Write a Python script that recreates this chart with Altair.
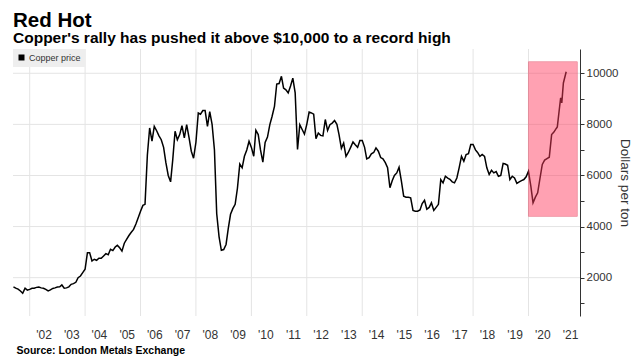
import altair as alt
import pandas as pd

# ---------------- data ----------------
start_month = "2001-06-01"
p2001 = [1640, 1590, 1550, 1480, 1390, 1585, 1510]
p2002 = [1540, 1585, 1590, 1620, 1637, 1600, 1585, 1540, 1480, 1520, 1580, 1600]
p2003 = [1637, 1640, 1715, 1585, 1600, 1640, 1740, 1766, 1820, 2000, 2066, 2200]
p2004 = [2330, 2980, 2980, 2650, 2720, 2680, 2760, 2760, 2850, 2940, 2900, 3110]
p2005 = [3060, 3200, 3265, 3170, 3040, 3350, 3500, 3650, 3780, 3890, 4100, 4345]
p2006 = [4600, 4830, 4870, 6800, 7860, 7340, 7925, 7750, 7550, 7400, 7100, 6500]
p2007 = [6000, 5750, 6600, 7730, 7400, 7600, 7950, 7470, 7990, 7500, 6950, 6676]
p2008 = [7300, 8445, 8400, 8540, 8540, 7925, 8500, 8000, 7000, 4500, 3600, 3070]
p2009 = [3100, 3300, 3900, 4480, 4700, 4870, 5500, 6450, 6300, 6750, 7000, 7340]
p2010 = [7100, 6750, 7770, 7600, 7000, 6520, 7290, 7500, 7990, 8320, 8700, 9580]
p2011 = [9600, 9880, 9420, 9350, 9230, 9500, 9810, 9230, 7015, 7990, 7800, 7620]
p2012 = [8000, 8480, 8450, 8400, 7440, 7660, 7570, 7550, 8190, 7760, 7990, 8050]
p2013 = [8150, 8000, 7600, 7060, 7270, 6750, 6900, 7100, 7310, 7200, 7100, 7370]
p2014 = [7370, 7100, 6650, 6700, 6850, 6900, 7080, 6950, 6700, 6650, 6500, 6300]
p2015 = [5520, 5800, 6000, 6100, 6320, 5780, 5190, 5150, 5150, 5125, 4630, 4600]
p2016 = [4600, 4650, 4900, 5030, 4680, 4750, 4930, 4630, 4750, 4870, 5840, 5710]
p2017 = [5970, 5900, 5850, 5750, 5710, 5900, 6300, 6750, 6560, 6820, 6850, 7210]
p2018 = [7210, 7000, 6900, 6750, 6820, 6750, 6300, 6040, 6200, 6100, 6150, 5970]
p2019 = [6000, 6470, 6450, 6400, 5840, 5970, 5900, 5690, 5750, 5800, 5840, 5950]
p2020 = [6170, 5580, 4930, 5150, 5320, 5900, 6430, 6600, 6660, 6715, 7600, 7700]
p2021_dates = ["2021-01-01", "2021-01-15", "2021-02-15", "2021-02-28",
               "2021-03-15", "2021-04-05", "2021-05-12"]
p2021 = [7840, 7900, 8710, 9040, 8840, 9620, 10060]

highlight_x = ["2020-01-01", "2021-10-05"]
highlight_y = [4400, 10450]

series_name = "Copper price"
label_years = list(range(2002, 2022))
grid_years = list(range(2002, 2021, 2))
y_ticks = list(range(1000, 11000, 1000))
y_grid = list(range(2000, 11000, 2000))

# ---------------- tables ----------------
monthly = (p2001 + p2002 + p2003 + p2004 + p2005 + p2006 + p2007 + p2008 + p2009
           + p2010 + p2011 + p2012 + p2013 + p2014 + p2015 + p2016 + p2017
           + p2018 + p2019 + p2020)
dates = [d.strftime("%Y-%m-%d") for d in pd.date_range(start_month, periods=len(monthly), freq="MS")]
df = pd.DataFrame({
    "date": dates + p2021_dates,
    "price": monthly + p2021,
    "series": series_name,
})
box = pd.DataFrame({"x": [highlight_x[0]], "x2": [highlight_x[1]],
                    "y": [highlight_y[0]], "y2": [highlight_y[1]]})
xgrid_df = pd.DataFrame({"gx": [f"{y}-01-01" for y in grid_years]})
ygrid_df = pd.DataFrame({"gy": y_grid})

FONT = "Liberation Sans"
GRID = "#e4e4e4"

x_scale = alt.Scale(domain=[alt.DateTime(year=2001, month=5, date=26),
                            alt.DateTime(year=2021, month=11, date=10)])
y_scale = alt.Scale(domain=[500, 10950], nice=False, zero=False)

x_axis = alt.Axis(
    values=[alt.DateTime(year=y, month=1, date=1) for y in label_years],
    labelExpr="'\\'' + timeFormat(datum.value, '%y')",
    labelOffset=13.85, labelFlush=False, labelOverlap=False,
    domain=False, ticks=False, grid=False, labelPadding=13,
    labelFontSize=12, labelColor="#333333", labelFont=FONT,
    title="Source: London Metals Exchange",
    titleAnchor="start", titleAlign="left", titleBaseline="alphabetic",
    titleX=3, titleY=37, titleFontSize=10.5, titleFontWeight="bold",
    titleColor="#000000", titleFont=FONT,
)

y_axis = alt.Axis(
    orient="right", values=y_ticks,
    labelExpr="datum.value % 2000 === 0 ? '' + datum.value : ''",
    labelOverlap=False, grid=False,
    domain=True, domainColor="#333333", tickColor="#333333", tickSize=4,
    labelFontSize=11.5, labelColor="#333333", labelFont=FONT, labelPadding=2,
    title="Dollars per ton", titleFontSize=13.5, titleFontWeight="normal",
    titleColor="#333333", titleFont=FONT, titlePadding=0,
)

xgrid = alt.Chart(xgrid_df).mark_rule(color=GRID, strokeWidth=1).encode(
    x=alt.X("gx:T", scale=x_scale, axis=x_axis),
)
ygrid = alt.Chart(ygrid_df).mark_rule(color=GRID, strokeWidth=1).encode(
    y=alt.Y("gy:Q", scale=y_scale, axis=y_axis),
)

line = alt.Chart(df).mark_line(strokeWidth=1.5).encode(
    x=alt.X("date:T", scale=x_scale, axis=x_axis),
    y=alt.Y("price:Q", scale=y_scale, axis=y_axis),
    color=alt.Color("series:N",
                    scale=alt.Scale(domain=[series_name], range=["#000000"]),
                    legend=alt.Legend(title=None, orient="top-left", offset=0,
                                      symbolType="square", symbolFillColor="#000000",
                                      symbolStrokeWidth=0, symbolSize=36,
                                      labelFontSize=9, labelColor="#333333",
                                      labelFont=FONT, fillColor="#eeeeee",
                                      padding=4, symbolOffset=0, labelOffset=3)),
)

rect = alt.Chart(box).mark_rect(fill="#ff3d5f", opacity=0.48, stroke="#e0304f",
                                strokeWidth=1).encode(
    x=alt.X("x:T", scale=x_scale, axis=x_axis), x2="x2:T",
    y=alt.Y("y:Q", scale=y_scale, axis=y_axis), y2="y2:Q",
)

chart = alt.layer(xgrid, ygrid, line, rect).properties(
    width=567, height=267,
    padding={"left": 2, "top": 2, "right": 0, "bottom": 0},
    title=alt.Title(
        "Red Hot",
        subtitle="Copper's rally has pushed it above $10,000 to a record high",
        anchor="start", frame="group", font=FONT, fontSize=20.5, fontWeight="bold",
        color="#000000", subtitleFont=FONT, subtitleFontSize=15.5,
        subtitleFontWeight="bold", subtitleColor="#000000",
        subtitlePadding=0, offset=2,
    ),
).configure_view(stroke=None)

chart.save("out.html", embed_options={"renderer": "svg", "actions": False})
